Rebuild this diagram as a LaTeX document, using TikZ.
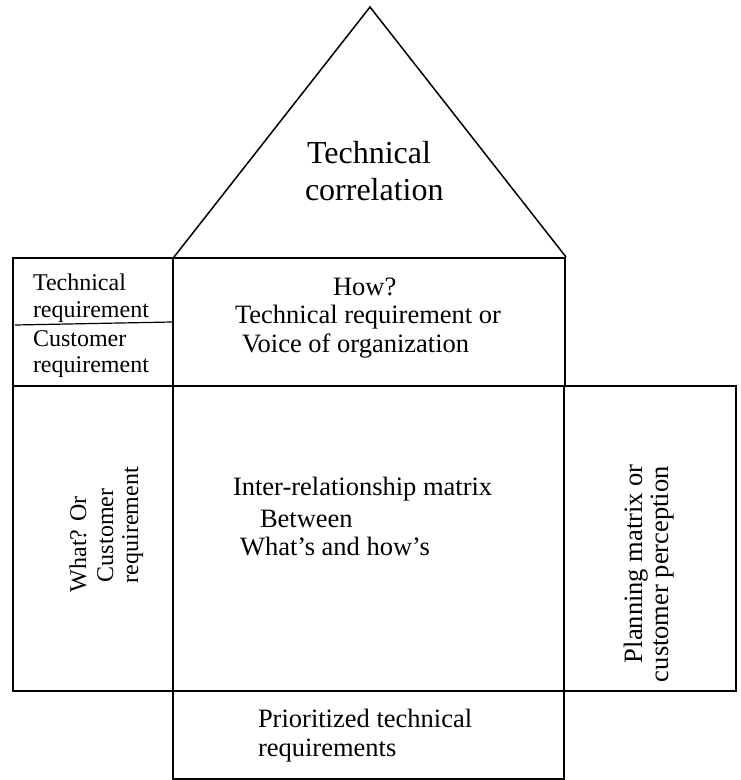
\documentclass[tikz,border=0pt]{standalone}
\usepackage{fontspec}
\setmainfont{Liberation Serif}
\begin{document}
\begin{tikzpicture}[x=1pt,y=-1pt,
  box/.style={draw=black,line width=1.5pt},
  txt/.style={anchor=base west,inner sep=0pt,outer sep=0pt,font=\fontsize{26.5}{30}\selectfont},
  smalltxt/.style={anchor=base west,inner sep=0pt,outer sep=0pt,font=\fontsize{24}{27}\selectfont},
  bigtxt/.style={anchor=base west,inner sep=0pt,outer sep=0pt,font=\fontsize{32}{37}\selectfont}]
\useasboundingbox[fill=white] (0,0) rectangle (741,780);
% roof
\draw[box,line join=miter] (174,257) -- (370,7) -- (566,257);
% top row
\draw[box] (13,258) rectangle (173,386);
\draw[line width=1.2pt] (15,325) -- (172,322);
\draw[box] (173,258) rectangle (565,386);
% middle row
\draw[box] (13,386) rectangle (173,691);
\draw[box] (173,386) rectangle (564,691);
\draw[box] (564,386) rectangle (736,691);
% bottom
\draw[box] (173,691) rectangle (564,779);
% texts
\node[bigtxt] (tc1) at (307,163) {Technical};
\node[bigtxt] (tc2) at (305,200) {correlation};
\node[smalltxt] (tl1) at (33,290) {Technical};
\node[smalltxt] (tl2) at (33,317) {requirement};
\node[smalltxt] (tl3) at (33,346) {Customer};
\node[smalltxt] (tl4) at (33,372) {requirement};
\node[txt] (h1) at (333,295) {How?};
\node[txt] (h2) at (235,323) {Technical requirement or};
\node[txt] (h3) at (242,352) {Voice of organization};
\node[txt] (m1) at (233,495) {Inter-relationship matrix};
\node[txt] (m2) at (260,527) {Between};
\node[txt] (m3) at (240,555) {What’s and how’s};
\node[txt] (p1) at (258,727) {Prioritized technical};
\node[txt] (p2) at (258,756) {requirements};
\node[smalltxt,rotate=90] (w1) at (86,592) {What? Or};
\node[smalltxt,rotate=90] (w2) at (113,582) {Customer};
\node[smalltxt,rotate=90] (w3) at (138,583) {requirement};
\node[txt,rotate=90] (r1) at (642,663) {Planning matrix or};
\node[txt,rotate=90] (r2) at (668,682) {customer perception};
\end{tikzpicture}
\end{document}
